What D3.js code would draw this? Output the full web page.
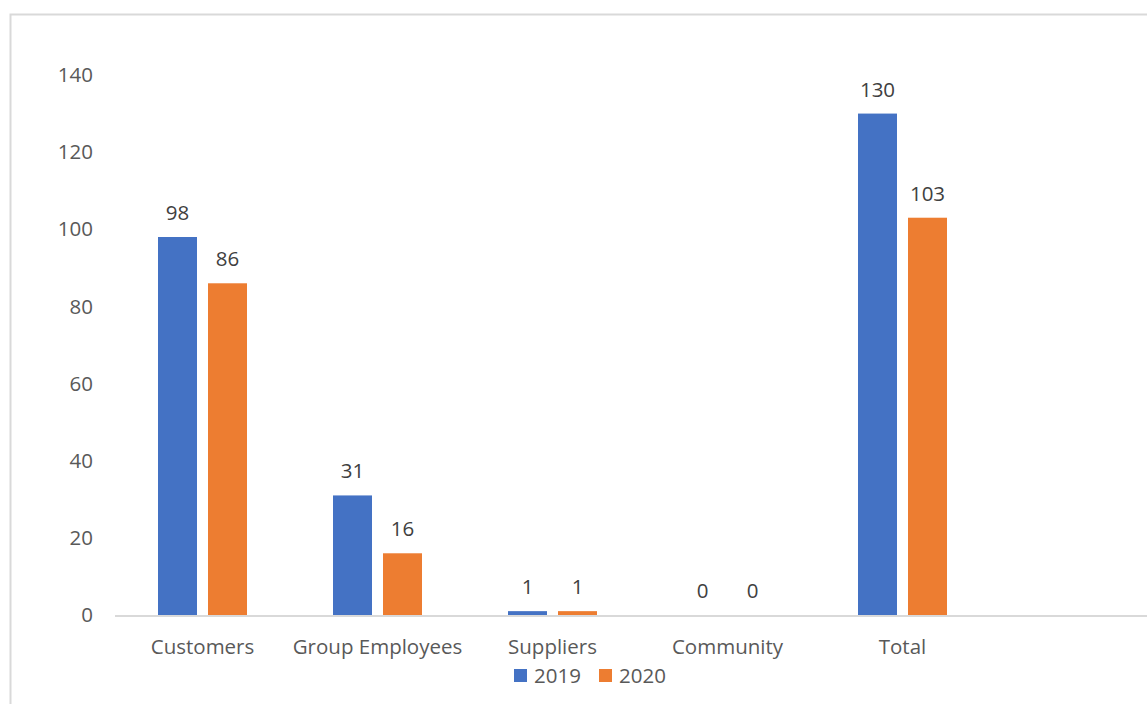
<!DOCTYPE html>
<meta charset="utf-8">
<script src="https://d3js.org/d3.v7.js"></script>
<style>
  body { margin: 0; background: #fff; }
  text { font-family: "Open Sans", sans-serif; }
</style>
<div id="chart"></div>
<script>

// data
const categories = ["Customers", "Group Employees", "Suppliers", "Community", "Total"];
const years = ["2019", "2020"];
const values2019 = [98, 31, 1, 0, 130];
const values2020 = [86, 16, 1, 0, 103];
const yTicks = [0, 20, 40, 60, 80, 100, 120, 140];
const colors = ["#4472c4", "#ed7d31"];

const W = 1147, H = 704;
const fs = "20.5px";

const svg = d3.select("#chart")
  .append("svg")
    .attr("width", W)
    .attr("height", H);

// chart frame (cut off at right and bottom)
svg.append("rect")
  .attr("x", 10.5).attr("y", 14.5)
  .attr("width", W).attr("height", H)
  .attr("fill", "none")
  .attr("stroke", "#d9d9d9")
  .attr("stroke-width", 2);

const x = d3.scaleBand()
  .domain(categories)
  .range([115, 115 + 175 * categories.length]);

const y = d3.scaleLinear()
  .domain([0, 140])
  .range([615, 75]);

const xSub = d3.scaleBand()
  .domain(years)
  .range([0, 89])
  .paddingInner(0.22);

const table = categories.map((c, i) => ({
  cat: c,
  vals: [
    {year: years[0], v: values2019[i]},
    {year: years[1], v: values2020[i]}
  ]
}));

// y tick labels
svg.append("g")
  .selectAll("text")
  .data(yTicks)
  .join("text")
    .attr("x", 93)
    .attr("y", d => y(d))
    .attr("dy", "0.35em")
    .attr("text-anchor", "end")
    .attr("fill", "#595959")
    .style("font-size", fs)
    .text(d => d);

// bars
const groups = svg.append("g")
  .selectAll("g")
  .data(table)
  .join("g")
    .attr("transform", d => `translate(${x(d.cat) + x.bandwidth() / 2 - 44.5},0)`);

groups.selectAll("rect")
  .data(d => d.vals)
  .join("rect")
    .attr("x", d => xSub(d.year))
    .attr("y", d => y(d.v))
    .attr("width", xSub.bandwidth())
    .attr("height", d => y(0) - y(d.v))
    .attr("fill", (d, i) => colors[i]);

groups.selectAll("text")
  .data(d => d.vals)
  .join("text")
    .attr("x", d => xSub(d.year) + xSub.bandwidth() / 2)
    .attr("y", d => y(d.v) - 17)
    .attr("text-anchor", "middle")
    .attr("fill", "#404040")
    .style("font-size", fs)
    .text(d => d.v);

// axis line
svg.append("line")
  .attr("x1", 115).attr("x2", W)
  .attr("y1", 616).attr("y2", 616)
  .attr("stroke", "#d9d9d9")
  .attr("stroke-width", 2);

// category labels
svg.append("g")
  .selectAll("text")
  .data(categories)
  .join("text")
    .attr("x", d => x(d) + x.bandwidth() / 2)
    .attr("y", 654)
    .attr("text-anchor", "middle")
    .attr("fill", "#595959")
    .style("font-size", fs)
    .text(d => d);

// legend
const legend = svg.append("g")
  .selectAll("g")
  .data(years)
  .join("g")
    .attr("transform", (d, i) => `translate(${514 + i * 85},669)`);

legend.append("rect")
  .attr("width", 13).attr("height", 13)
  .attr("fill", (d, i) => colors[i]);

legend.append("text")
  .attr("x", 20)
  .attr("y", 13.5)
  .attr("fill", "#595959")
  .style("font-size", fs)
  .text(d => d);

</script>
